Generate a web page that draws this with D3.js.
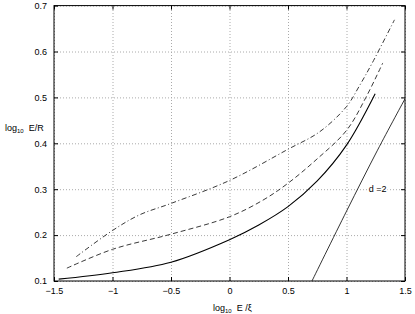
<!DOCTYPE html>
<html>
<head>
<meta charset="utf-8">
<script src="https://cdn.jsdelivr.net/npm/d3@7"></script>
<style>
  body { margin: 0; background: #fff; }
  svg text { font-family: "Liberation Sans", Arial, sans-serif; font-size: 9px; fill: #000; }
</style>
</head>
<body>
<svg id="chart" width="415" height="314"></svg>
<script>
const W = 415, H = 314;
const margin = { left: 54, right: 10, top: 5.6, bottom: 33 };

// tick values
const xTicks = [-1.5, -1, -0.5, 0, 0.5, 1, 1.5];
const yTicks = [0.1, 0.2, 0.3, 0.4, 0.5, 0.6, 0.7];

// curves
const solidX = [-1.46, -1, -0.5, 0, 0.25, 0.5, 0.75, 1.0, 1.245];
const solidY = [0.104, 0.118, 0.141, 0.19, 0.222, 0.262, 0.318, 0.396, 0.508];

const dashX = [-1.39, -1, -0.5, 0, 0.285, 0.5, 0.74, 1.0, 1.166, 1.31];
const dashY = [0.128, 0.169, 0.202, 0.24, 0.276, 0.313, 0.364, 0.428, 0.5, 0.575];

const dashDotX = [-1.31, -1, -0.77, -0.5, 0, 0.5, 0.77, 1.0, 1.11, 1.22, 1.41];
const dashDotY = [0.153, 0.21, 0.244, 0.269, 0.319, 0.387, 0.425, 0.48, 0.525, 0.575, 0.669];

const d2X = [0.705, 1.0, 1.265, 1.5];
const d2Y = [0.1, 0.252, 0.385, 0.497];

const svg = d3.select("#chart");

const x = d3.scaleLinear().domain([-1.5, 1.5]).range([margin.left, W - margin.right]);
const y = d3.scaleLinear().domain([0.1, 0.7]).range([H - margin.bottom, margin.top]);

const fmt = v => (v < 0 ? "\u2212" : "") + Math.abs(v);

// grid
svg.append("g")
  .attr("transform", `translate(0,${H - margin.bottom})`)
  .call(d3.axisBottom(x).tickValues(xTicks).tickSize(-(H - margin.top - margin.bottom)).tickFormat(""))
  .call(g => g.select(".domain").remove())
  .call(g => g.selectAll("line").attr("stroke", "#aaa").attr("stroke-dasharray", "1,2"));

svg.append("g")
  .attr("transform", `translate(${margin.left},0)`)
  .call(d3.axisLeft(y).tickValues(yTicks).tickSize(-(W - margin.left - margin.right)).tickFormat(""))
  .call(g => g.select(".domain").remove())
  .call(g => g.selectAll("line").attr("stroke", "#aaa").attr("stroke-dasharray", "1,2"));

// label for the d=2 line, sitting on the gridline
const labelG = svg.append("g");
const labelBg = labelG.append("rect").attr("fill", "#fff");
const d2Label = labelG.append("text").attr("x", x(1.19)).attr("y", y(0.3) + 3).text("d =2");
const bb = d2Label.node().getBBox();
labelBg.attr("x", bb.x - 1).attr("y", bb.y).attr("width", bb.width + 2).attr("height", bb.height);

// curves
const line = d3.line().x(d => x(d[0])).y(d => y(d[1])).curve(d3.curveCatmullRom.alpha(0.5));
const zip = (a, b) => a.map((v, i) => [v, b[i]]);

svg.append("clipPath").attr("id", "clip").append("rect")
  .attr("x", margin.left).attr("y", margin.top)
  .attr("width", W - margin.left - margin.right).attr("height", H - margin.top - margin.bottom);

const plot = svg.append("g").attr("clip-path", "url(#clip)");

plot.append("path").datum(zip(solidX, solidY))
  .attr("d", line).attr("fill", "none").attr("stroke", "#000").attr("stroke-width", 1.1);

plot.append("path").datum(zip(dashX, dashY))
  .attr("d", line).attr("fill", "none").attr("stroke", "#222").attr("stroke-width", 0.9)
  .attr("stroke-dasharray", "5,3");

plot.append("path").datum(zip(dashDotX, dashDotY))
  .attr("d", line).attr("fill", "none").attr("stroke", "#222").attr("stroke-width", 0.9)
  .attr("stroke-dasharray", "5,2.5,1,2.5");

plot.append("path").datum(zip(d2X, d2Y))
  .attr("d", line).attr("fill", "none").attr("stroke", "#000").attr("stroke-width", 0.8);

// axes with inward ticks
const tl = 4;
svg.append("g")
  .attr("transform", `translate(0,${H - margin.bottom})`)
  .call(d3.axisBottom(x).tickValues(xTicks).tickSizeInner(-tl).tickSizeOuter(0).tickPadding(7).tickFormat(fmt))
  .call(g => g.select(".domain").remove());

svg.append("g")
  .attr("transform", `translate(0,${margin.top})`)
  .call(d3.axisTop(x).tickValues(xTicks).tickSizeInner(-tl).tickSizeOuter(0).tickFormat(""))
  .call(g => g.select(".domain").remove());

svg.append("g")
  .attr("transform", `translate(${margin.left},0)`)
  .call(d3.axisLeft(y).tickValues(yTicks).tickSizeInner(-tl).tickSizeOuter(0).tickPadding(7).tickFormat(d3.format(".1f")))
  .call(g => g.select(".domain").remove());

svg.append("g")
  .attr("transform", `translate(${W - margin.right},0)`)
  .call(d3.axisRight(y).tickValues(yTicks).tickSizeInner(-tl).tickSizeOuter(0).tickFormat(""))
  .call(g => g.select(".domain").remove());

svg.selectAll(".tick text").attr("font-size", 9).attr("font-family", "Liberation Sans, Arial, sans-serif");

svg.append("rect")
  .attr("x", margin.left).attr("y", margin.top)
  .attr("width", W - margin.left - margin.right).attr("height", H - margin.top - margin.bottom)
  .attr("fill", "none").attr("stroke", "#000").attr("stroke-width", 1);

// axis labels
const yl = svg.append("text").attr("x", 5).attr("y", 131);
yl.append("tspan").text("log");
yl.append("tspan").attr("font-size", 6).attr("dy", 2).text("10");
yl.append("tspan").attr("dy", -2).attr("dx", 5).text("E/R");

const xl = svg.append("text").attr("x", 213).attr("y", 311);
xl.append("tspan").text("log");
xl.append("tspan").attr("font-size", 6).attr("dy", 2).text("10");
xl.append("tspan").attr("dy", -2).attr("dx", 5).text("E /\u03be");
</script>
</body>
</html>
